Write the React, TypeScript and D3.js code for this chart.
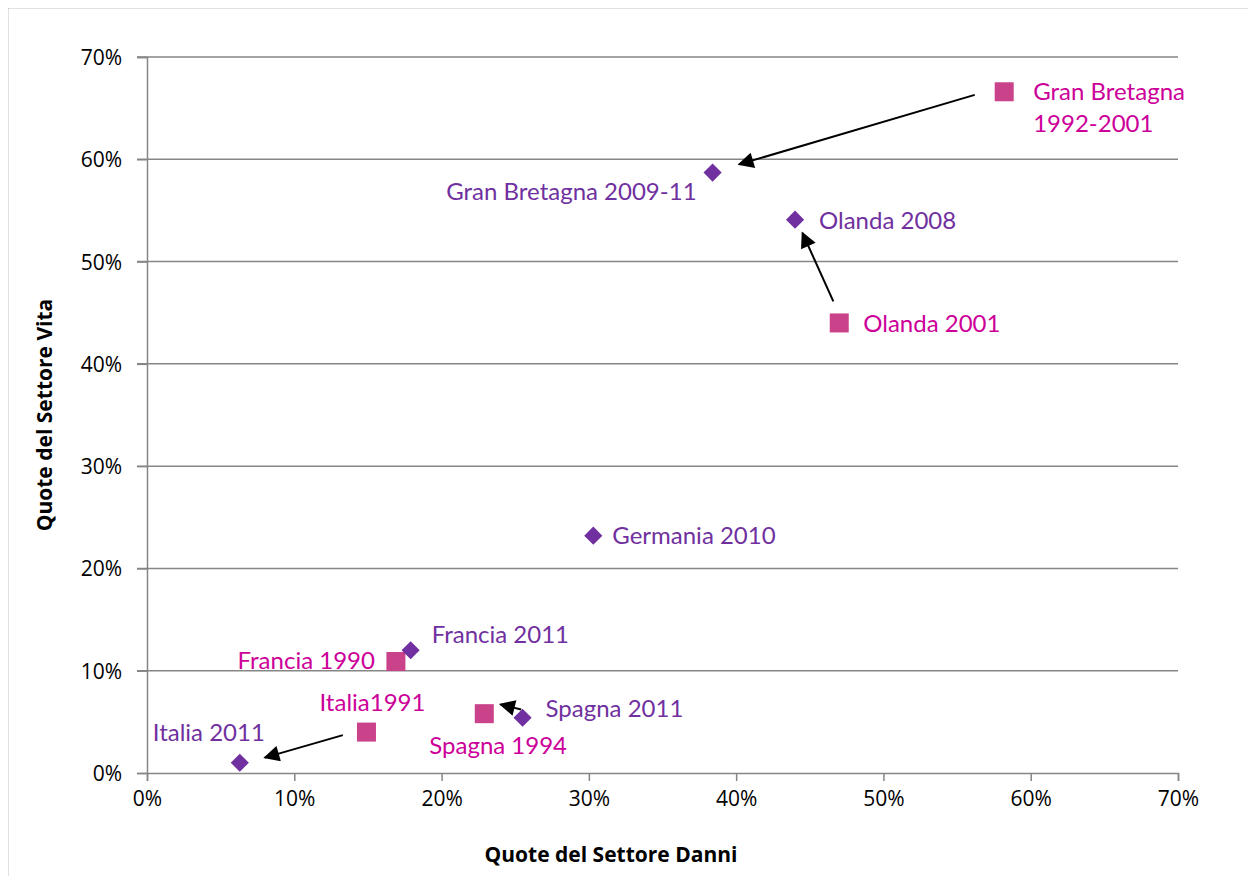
import React, {useEffect, useRef} from 'react'
import * as d3 from 'd3'

// recent points (diamonds)
const recentNames = ['Gran Bretagna 2009-11', 'Olanda 2008', 'Germania 2010', 'Francia 2011', 'Spagna 2011', 'Italia 2011']
const recentDanni = [0.384, 0.440, 0.303, 0.179, 0.255, 0.063]
const recentVita = [0.587, 0.541, 0.232, 0.120, 0.054, 0.010]

// older points (squares)
const oldNames = ['Gran Bretagna\n1992-2001', 'Olanda 2001', 'Francia 1990', 'Italia1991', 'Spagna 1994']
const oldDanni = [0.582, 0.470, 0.169, 0.149, 0.229]
const oldVita = [0.666, 0.440, 0.109, 0.040, 0.058]

const ticks = [0, 0.1, 0.2, 0.3, 0.4, 0.5, 0.6, 0.7]

// arrows: [fromX, fromY, toX, toY] in data units
const arrows = [
  [0.562, 0.663, 0.402, 0.595],
  [0.466, 0.461, 0.445, 0.528],
  [0.133, 0.037, 0.080, 0.015],
  [0.254, 0.062, 0.240, 0.067],
]

// label placement per name: dx, dy from point, anchor
const labelPos: Record<string, [number, number, string]> = {
  'Gran Bretagna 2009-11': [-16, 27, 'end'],
  'Olanda 2008': [24, 9, 'start'],
  'Germania 2010': [19, 8, 'start'],
  'Francia 2011': [21, -7, 'start'],
  'Spagna 2011': [23, -1, 'start'],
  'Italia 2011': [-87, -22, 'start'],
  'Gran Bretagna\n1992-2001': [29, 8, 'start'],
  'Olanda 2001': [24, 9, 'start'],
  'Francia 1990': [-21, 7, 'end'],
  'Italia1991': [6, -21, 'middle'],
  'Spagna 1994': [-55, 40, 'start'],
}

const W = 1256, H = 884
const margin = {top: 57, right: 78, bottom: 111, left: 147}
const purple = '#7030A0'
const pinkMark = '#C9428A'
const pinkText = '#CC0099'
const grid = '#868686'
const labelFont = 'Lato, "Open Sans", sans-serif'
const tickFont = '"Open Sans", "Noto Sans", sans-serif'

export default function App() {
  const ref = useRef<SVGSVGElement>(null)

  useEffect(() => {
    const svgRoot = d3.select(ref.current)
    svgRoot.selectAll('*').remove()

    const x = d3.scaleLinear().domain([0, 0.7]).range([margin.left, W - margin.right])
    const y = d3.scaleLinear().domain([0, 0.7]).range([H - margin.bottom, margin.top])

    // outer frame
    svgRoot.append('rect')
      .attr('x', 7.5).attr('y', 7.5).attr('width', W - 14).attr('height', H - 12)
      .attr('fill', 'white').attr('stroke', '#868686').attr('stroke-width', 1.5)

    // gridlines
    svgRoot.append('g').selectAll('line').data(ticks.slice(1)).enter().append('line')
      .attr('x1', margin.left - 10).attr('x2', x(0.7))
      .attr('y1', d => y(d)).attr('y2', d => y(d))
      .attr('stroke', grid).attr('stroke-width', 1.5)

    // y axis
    const yAxis = svgRoot.append('g').attr('transform', `translate(${margin.left},0)`)
      .call(d3.axisLeft(y).tickValues(ticks).tickFormat(d3.format('.0%')).tickSize(10).tickPadding(15))
    // x axis
    const xAxis = svgRoot.append('g').attr('transform', `translate(0,${y(0)})`)
      .call(d3.axisBottom(x).tickValues(ticks).tickFormat(d3.format('.0%')).tickSize(8).tickPadding(10))
    ;[yAxis, xAxis].forEach(a => {
      a.attr('font-size', 21).attr('font-family', tickFont)
      a.select('.domain').attr('stroke', grid).attr('stroke-width', 1.5)
      a.selectAll('.tick line').attr('stroke', grid).attr('stroke-width', 1.5)
      a.selectAll('.tick text').attr('fill', '#000')
    })
    yAxis.selectAll('.tick text').attr('dy', '0.36em')

    // axis titles
    svgRoot.append('text')
      .attr('x', 611).attr('y', 862)
      .attr('text-anchor', 'middle').attr('font-weight', 'bold').attr('font-size', 21)
      .attr('font-family', tickFont).text('Quote del Settore Danni')
    svgRoot.append('text')
      .attr('transform', `translate(52,${(y(0) + y(0.7)) / 2}) rotate(-90)`)
      .attr('text-anchor', 'middle').attr('font-weight', 'bold').attr('font-size', 21)
      .attr('font-family', tickFont).text('Quote del Settore Vita')

    // arrows
    svgRoot.append('defs').append('marker').attr('id', 'arrowHead')
      .attr('viewBox', '0 0 10 10').attr('refX', 9).attr('refY', 5)
      .attr('markerWidth', 20).attr('markerHeight', 16).attr('markerUnits', 'userSpaceOnUse')
      .attr('orient', 'auto')
      .append('path').attr('d', 'M0,0 L10,5 L0,10 z').attr('fill', '#000')

    svgRoot.append('g').selectAll('line').data(arrows).enter().append('line')
      .attr('x1', d => x(d[0])).attr('y1', d => y(d[1]))
      .attr('x2', d => x(d[2])).attr('y2', d => y(d[3]))
      .attr('stroke', '#000').attr('stroke-width', 2)
      .attr('marker-end', 'url(#arrowHead)')

    const recent = recentNames.map((n, i) => ({name: n, dx: recentDanni[i], vy: recentVita[i]}))
    const old = oldNames.map((n, i) => ({name: n, dx: oldDanni[i], vy: oldVita[i]}))

    // squares
    svgRoot.append('g').selectAll('rect').data(old).enter().append('rect')
      .attr('x', d => x(d.dx) - 9.5).attr('y', d => y(d.vy) - 9.5)
      .attr('width', 19).attr('height', 19).attr('fill', pinkMark)

    // diamonds
    svgRoot.append('g').selectAll('path').data(recent).enter().append('path')
      .attr('d', d3.symbol().type(d3.symbolDiamond2).size(210) as any)
      .attr('transform', d => `translate(${x(d.dx)},${y(d.vy)})`)
      .attr('fill', purple)

    // labels
    const addLabels = (data: any[], color: string) => {
      const t = svgRoot.append('g').selectAll('text').data(data).enter().append('text')
        .attr('x', d => x(d.dx) + labelPos[d.name][0])
        .attr('y', d => y(d.vy) + labelPos[d.name][1])
        .attr('text-anchor', d => labelPos[d.name][2])
        .attr('font-family', labelFont).attr('font-size', 24)
        .attr('fill', color)
      t.each(function (d) {
        const el = d3.select(this)
        d.name.split('\n').forEach((line: string, i: number) => {
          el.append('tspan').attr('x', x(d.dx) + labelPos[d.name][0])
            .attr('dy', i === 0 ? 0 : 32).text(line)
        })
      })
    }
    addLabels(recent, purple)
    addLabels(old, pinkText)
  }, [])

  return <svg ref={ref} width={W} height={H} style={{display: 'block', margin: -8}} />
}
